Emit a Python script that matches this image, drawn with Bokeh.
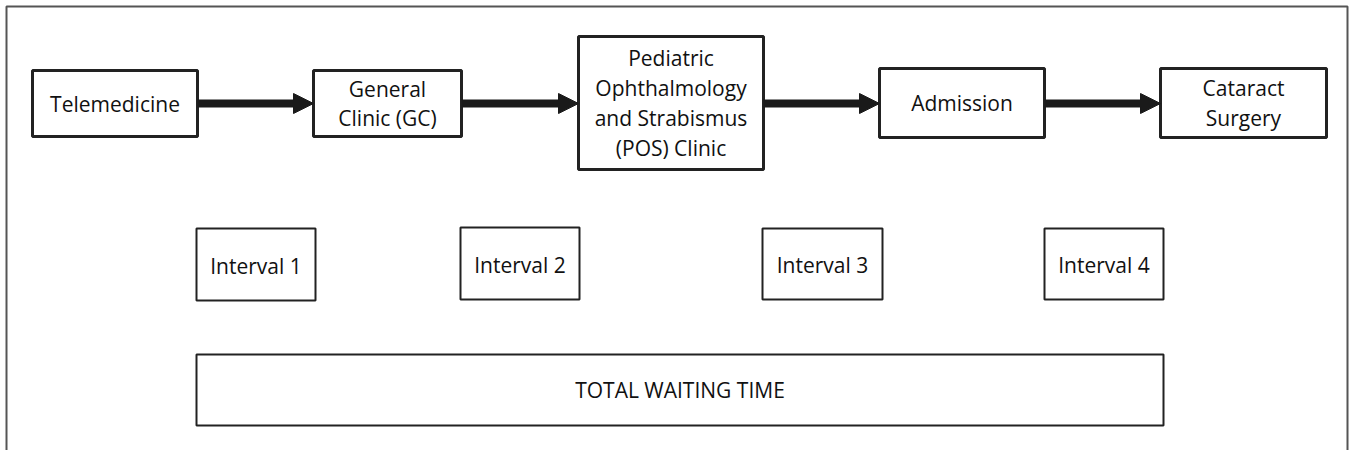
from bokeh.plotting import figure
from bokeh.models import Range1d, ColumnDataSource, Arrow, NormalHead
from bokeh.core.properties import value
from bokeh.embed import file_html
from bokeh.resources import INLINE

# ---- content (labels) ----
stages = ["Telemedicine", "General\nClinic (GC)",
          "Pediatric\nOphthalmology\nand Strabismus\n(POS) Clinic",
          "Admission", "Cataract\nSurgery"]
intervals = ["Interval 1", "Interval 2", "Interval 3", "Interval 4"]
total_label = ["TOTAL WAITING TIME"]

# ---- layout (pixel coordinates of the diagram) ----
stage_left = [32, 313, 578, 879, 1160]
stage_right = [197, 461, 763, 1044, 1326]
stage_top = [70, 70, 36, 68, 68]
stage_bottom = [136, 136, 169, 137, 137]
interval_left = [196, 460, 762, 1044]
interval_right = [315, 579, 882, 1163]
interval_top = [228, 227, 228, 228]
interval_bottom = [300, 299, 299, 299]
total_box = dict(left=[196], right=[1163], top=[354], bottom=[425])
arrow_y = 103

FONT = value("Open Sans")
TXT = "#111111"
LINE = "#222222"

W, H = 1349, 450
p = figure(width=W, height=H, output_backend="svg", toolbar_location=None,
           x_range=Range1d(0, W), y_range=Range1d(H, 0),
           min_border=0, background_fill_color="white", border_fill_color="white")
p.axis.visible = False
p.grid.visible = False
p.outline_line_color = None

# outer frame (left, top, right)
p.line(x=[6, 6, 1347, 1347], y=[452, 6, 6, 452], line_color="#555555", line_width=2)

# stage boxes
s_src = ColumnDataSource(dict(
    left=stage_left, right=stage_right, top=stage_top, bottom=stage_bottom,
    x=[(a + b) / 2 for a, b in zip(stage_left, stage_right)],
    y=[(a + b) / 2 for a, b in zip(stage_top, stage_bottom)],
    text=stages))
p.quad(left="left", right="right", top="top", bottom="bottom", source=s_src,
       fill_color="white", line_color=LINE, line_width=3)
p.text(x="x", y="y", text="text", source=s_src, text_align="center",
       text_baseline="middle", text_font=FONT, text_font_size="21px",
       text_color=TXT, text_line_height=1.07)

# arrows between stages
a_src = ColumnDataSource(dict(
    x0=stage_right[:-1], x1=stage_left[1:],
    y0=[arrow_y] * 4, y1=[arrow_y] * 4))
p.add_layout(Arrow(source=a_src, x_start="x0", y_start="y0", x_end="x1", y_end="y1",
                   line_width=8, line_color="#1a1a1a",
                   end=NormalHead(size=20, fill_color="#1a1a1a", line_color="#1a1a1a",
                                  line_width=1)))

# interval boxes
i_src = ColumnDataSource(dict(
    left=interval_left, right=interval_right, top=interval_top, bottom=interval_bottom,
    x=[(a + b) / 2 for a, b in zip(interval_left, interval_right)],
    y=[(a + b) / 2 + 1 for a, b in zip(interval_top, interval_bottom)],
    text=intervals))
p.quad(left="left", right="right", top="top", bottom="bottom", source=i_src,
       fill_color="white", line_color=LINE, line_width=2)
p.text(x="x", y="y", text="text", source=i_src, text_align="center",
       text_baseline="middle", text_font=FONT, text_font_size="21px", text_color=TXT)

# total waiting time box
t_src = ColumnDataSource(dict(
    left=total_box["left"], right=total_box["right"],
    top=total_box["top"], bottom=total_box["bottom"],
    x=[(total_box["left"][0] + total_box["right"][0]) / 2],
    y=[(total_box["top"][0] + total_box["bottom"][0]) / 2],
    text=total_label))
p.quad(left="left", right="right", top="top", bottom="bottom", source=t_src,
       fill_color="white", line_color=LINE, line_width=2)
p.text(x="x", y="y", text="text", source=t_src, text_align="center",
       text_baseline="middle", text_font=FONT, text_font_size="21px", text_color=TXT)

open("out.html", "w").write(file_html(p, INLINE))
